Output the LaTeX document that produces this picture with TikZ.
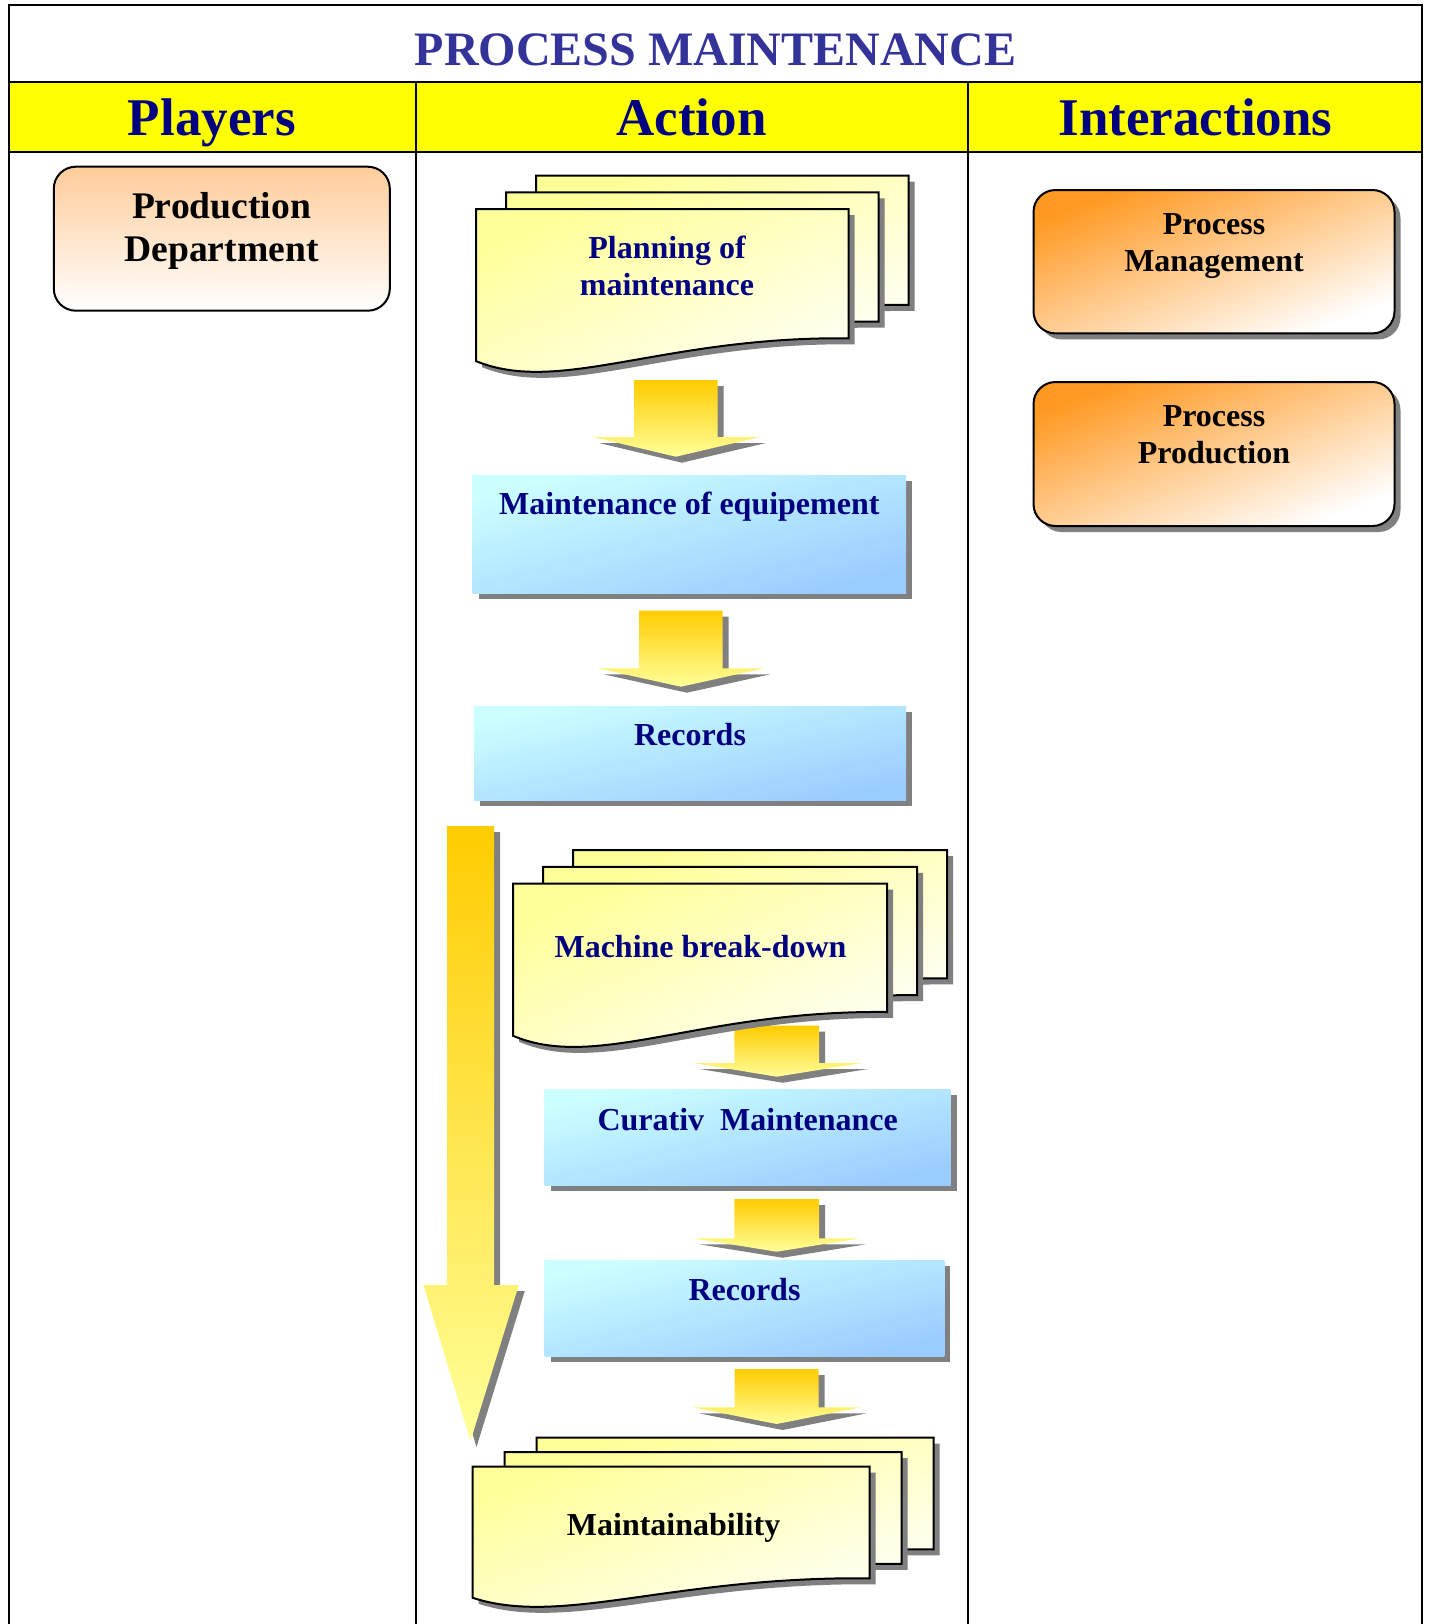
\documentclass[tikz,border=0pt]{standalone}
\usepackage{fontspec}
\setmainfont{Liberation Serif}

\definecolor{titleblue}{HTML}{333399}
\definecolor{navytext}{HTML}{000080}
\definecolor{headyellow}{HTML}{FFFF00}
\definecolor{docyellow}{HTML}{FFFF99}
\definecolor{docwhite}{HTML}{FFFFF6}
\definecolor{boxcyan}{HTML}{CCFFFF}
\definecolor{boxblue}{HTML}{99CCFF}
\definecolor{procorange}{HTML}{FF9922}
\definecolor{peach}{HTML}{FFCC99}
\definecolor{shadowgray}{HTML}{808080}
\definecolor{arrowgold}{HTML}{FFCC00}
\definecolor{arrowpale}{HTML}{FFFF99}

\tikzset{
  rule/.style={line width=1pt, black},
  sheetface/.style={draw=black, line width=1pt, top color=docyellow, bottom color=docwhite, shading angle=#1},
  shadowfill/.style={fill=shadowgray},
  bluebox/.style={top color=boxcyan, bottom color=boxblue, shading angle=#1},
  procbox/.style={draw=black, line width=1pt, rounded corners=11pt, top color=procorange, bottom color=white, shading angle=21.7},
  playerbox/.style={draw=black, line width=1pt, rounded corners=11pt, top color=peach, bottom color=white},
  arrowface/.style={top color=arrowgold, bottom color=arrowpale},
  titletext/.style={text=titleblue, inner sep=0pt, font=\fontsize{24}{28}\selectfont\bfseries},
  headtext/.style={text=navytext, inner sep=0pt, font=\fontsize{26.5}{30}\selectfont\bfseries},
  actiontext/.style={text=navytext, inner sep=0pt, align=center, font=\fontsize{16}{18.5}\selectfont\bfseries},
  blacktext/.style={text=black, inner sep=0pt, align=center, font=\fontsize{16}{18.4}\selectfont\bfseries},
  playertext/.style={text=black, inner sep=0pt, align=center, font=\fontsize{18.8}{21.7}\selectfont\bfseries},
}

% one sheet with a wavy lower edge: left, top, width, height at the right edge, wave depth;
% the shading runs from the upper left corner to the lower right one
\newcommand\sheet[5]{%
  \pgfmathsetmacro\shtAngle{atan((#4+1.1*#5)/#3)}%
  \fill[shadowfill, shift={(6,6)}] (#1,#2) -- (#1+#3,#2) -- (#1+#3,#2+#4)
    .. controls (#1+0.5*#3,#2+#4-2) and (#1+0.225*#3,#2+#4+1.8*#5)
    .. (#1,#2+#4+0.72*#5) -- cycle;
  \path[sheetface=\shtAngle] (#1,#2) -- (#1+#3,#2) -- (#1+#3,#2+#4)
    .. controls (#1+0.5*#3,#2+#4-2) and (#1+0.225*#3,#2+#4+1.8*#5)
    .. (#1,#2+#4+0.72*#5) -- cycle;
}
% three stacked sheets: front left, front top, width, height, wave, step x, step y
\newcommand\sheetstack[7]{%
  \pgfmathsetmacro\stkLb{#1+2*#6}\pgfmathsetmacro\stkTb{#2+2*#7}%
  \pgfmathsetmacro\stkLm{#1+#6}\pgfmathsetmacro\stkTm{#2+#7}%
  \sheet{\stkLb}{\stkTb}{#3}{#4}{#5}%
  \sheet{\stkLm}{\stkTm}{#3}{#4}{#5}%
  \sheet{#1}{#2}{#3}{#4}{#5}%
}
% block arrow pointing down: shaft left, shaft right, top, wing level, wing left, wing right, tip
\newcommand\blockarrow[7]{%
  \fill[shadowfill, shift={(6,6)}] (#1,#3) -- (#2,#3) -- (#2,#4) -- (#6,#4)
    -- ({(#1+#2)/2},#7) -- (#5,#4) -- (#1,#4) -- cycle;
  \path[arrowface] (#1,#3) -- (#2,#3) -- (#2,#4) -- (#6,#4)
    -- ({(#1+#2)/2},#7) -- (#5,#4) -- (#1,#4) -- cycle;
}
% shaded box without outline, with a drop shadow
\newcommand\flatbox[4]{%
  \pgfmathsetmacro\boxAngle{atan((#4-#2)/(#3-#1))}%
  \fill[shadowfill, shift={(6,6)}] (#1,#2) rectangle (#3,#4);
  \path[bluebox=\boxAngle] (#1,#2) rectangle (#3,#4);
}

\begin{document}
\begin{tikzpicture}[x=0.5pt, y=-0.5pt]
  \useasboundingbox (0,0) rectangle (1429,1624);
  \fill[white] (0,0) rectangle (1429,1624);

  % table frame and header band
  \fill[headyellow] (8.5,81.7) rectangle (1421.7,151.7);
  \draw[rule] (8.5,1630) -- (8.5,4.7) -- (1421.7,4.7) -- (1421.7,1630);
  \draw[rule] (8.5,81.7) -- (1421.7,81.7);
  \draw[rule] (8.5,151.7) -- (1421.7,151.7);
  \draw[rule] (415.7,81.7) -- (415.7,1630);
  \draw[rule] (968.3,81.7) -- (968.3,1630);

  \node[titletext, anchor=base] (title) at (715.5,65) {PROCESS MAINTENANCE};
  \node[headtext, anchor=base] (hplayers) at (211.8,135) {Players};
  \node[headtext, anchor=base] (haction) at (691.5,135) {Action};
  \node[headtext, anchor=base] (hinter) at (1195.5,135) {Interactions};

  % players column
  \path[playerbox] (53.8,166.7) rectangle (389.8,310.7);
  \node[playertext] (prod) at (221.5,231) {Production\\Department};

  % interactions column
  \fill[shadowfill, rounded corners=11pt, shift={(6,6)}] (1033.5,190) rectangle (1394.5,333.4);
  \path[procbox] (1033.5,190) rectangle (1394.5,333.4);
  \node[blacktext] (pmgmt) at (1214,246.4) {Process\\Management};
  \fill[shadowfill, rounded corners=11pt, shift={(6,6)}] (1033.5,382) rectangle (1394.5,526);
  \path[procbox] (1033.5,382) rectangle (1394.5,526);
  \node[blacktext] (pprod) at (1214,435) {Process\\Production};

  % action column
  \sheetstack{476}{209}{372.7}{129.3}{31.7}{30}{-16.7}
  \node[actiontext] (plan) at (667,265.7) {Planning of\\maintenance};

  \blockarrow{634}{717.7}{380}{437}{593}{760}{456.7}

  \flatbox{472.5}{475}{906}{593.3}
  \node[actiontext, anchor=base] (maint) at (689.3,514) {Maintenance of equipement};

  \blockarrow{639}{722.7}{610.7}{668.3}{597.7}{764.3}{686.7}

  \flatbox{474}{706}{906}{800.4}
  \node[actiontext, anchor=base] (rec1) at (690,745) {Records};

  % long flow arrow on the left of the breakdown branch
  \blockarrow{447}{494}{826}{1285}{423.5}{518.8}{1441}

  \blockarrow{734.3}{819}{1025.7}{1063}{694}{862}{1076.7}
  \sheetstack{513}{883.7}{374}{128.3}{33}{30}{-16.8}
  \node[actiontext, anchor=base] (brk) at (700.5,957.5) {Machine break-down};

  \flatbox{544.7}{1089.3}{950.7}{1185}
  \node[actiontext, anchor=base] (cur) at (747.7,1130) {Curativ\ \ Maintenance};

  \blockarrow{734.3}{819}{1199}{1238.3}{693.3}{860}{1251.7}

  \flatbox{544.7}{1260}{944.4}{1356.3}
  \node[actiontext, anchor=base] (rec2) at (744.5,1300.5) {Records};

  \blockarrow{734.6}{818.6}{1369}{1407.3}{693}{860.7}{1424}

  \sheetstack{472.5}{1466.7}{397}{111.6}{27}{32}{-14.5}
  \node[blacktext, anchor=base] (maintain) at (673.6,1535) {Maintainability};
\end{tikzpicture}
\end{document}
